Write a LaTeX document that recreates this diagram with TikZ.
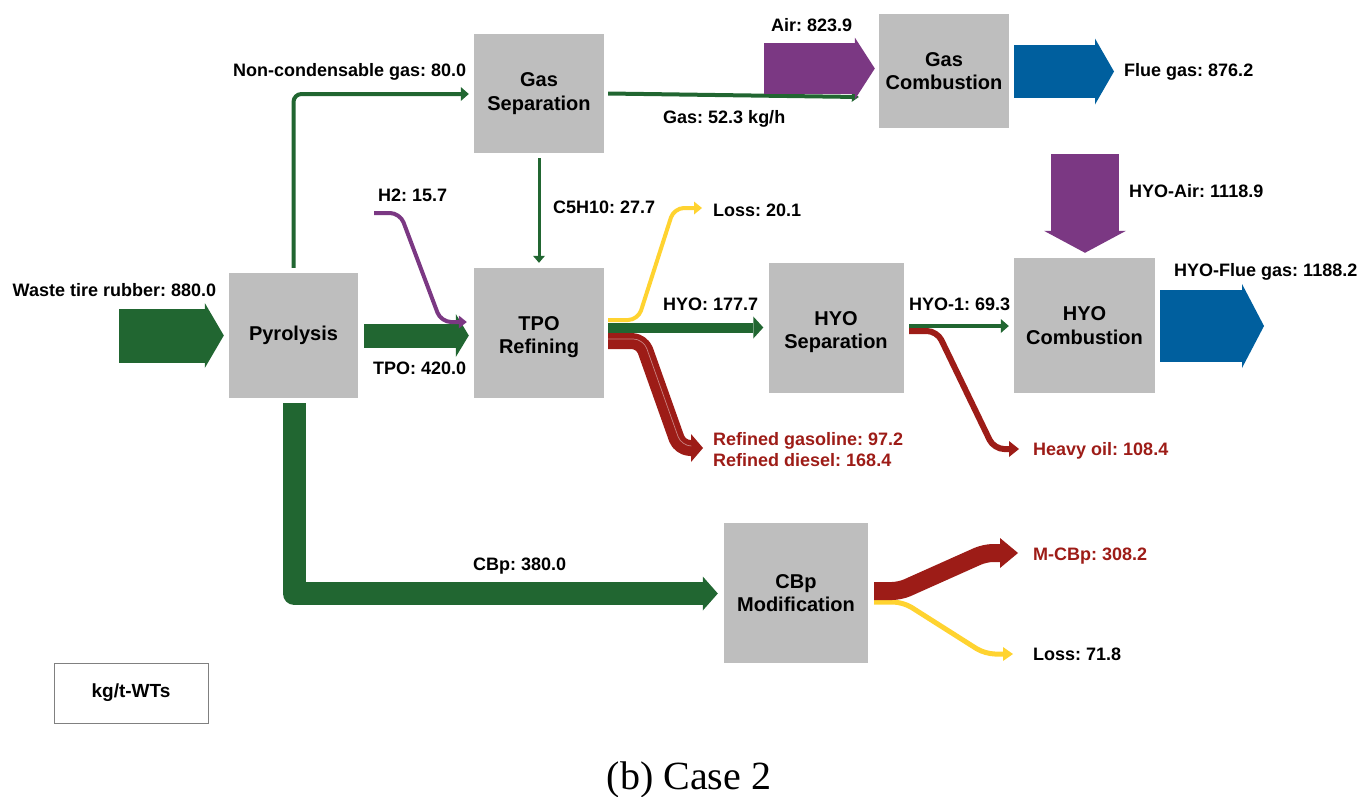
\documentclass[tikz,border=0pt]{standalone}
\usepackage{fontspec}
\setmainfont{Liberation Sans}
\newfontfamily\capfont{Liberation Serif}
\usetikzlibrary{arrows.meta,calc}
\definecolor{fgreen}{HTML}{216631}
\definecolor{fpurple}{HTML}{7B3883}
\definecolor{fblue}{HTML}{005F9E}
\definecolor{fred}{HTML}{9D1C17}
\definecolor{fyellow}{HTML}{FFD330}
\definecolor{boxgray}{HTML}{BEBEBE}
\newcommand\bxfont{\fontsize{20}{23.5}\selectfont\bfseries}
\newcommand\lbfont{\fontsize{18}{21}\selectfont\bfseries}
\newcommand\unitfont{\fontsize{19}{22}\selectfont\bfseries}
\frenchspacing
\begin{document}
\begin{tikzpicture}[x=1pt,y=-1pt,
  box/.style={fill=boxgray, inner sep=0pt, align=center, font=\bxfont},
  lbl/.style={anchor=base west, inner sep=0pt, font=\lbfont},
  rlbl/.style={lbl, text=fred},
  tipd/.style 2 args={-{Triangle[length=#1pt,width=#2pt,line width=0pt]}},
  flow/.style={line cap=butt, line join=round}
]
\useasboundingbox (0,0) rectangle (1359,796);

% process boxes
\node[box, minimum width=129pt, minimum height=125pt] (pyr) at (293.5,335.5) {Pyrolysis};
\node[box, minimum width=130pt, minimum height=119pt] (gsep) at (539,93.5) {Gas\\Separation};
\node[box, minimum width=130pt, minimum height=130pt] (tpo) at (539,333) {\rule{0pt}{22pt}TPO\\Refining};
\node[box, minimum width=130pt, minimum height=114pt] (gcomb) at (944,71) {Gas\\Combustion};
\node[box, minimum width=135pt, minimum height=130pt] (hsep) at (836,328) {\rule{0pt}{22pt}HYO\\Separation};
\node[box, minimum width=141pt, minimum height=135pt] (hcomb) at (1084.5,325.5) {HYO\\Combustion};
\node[box, minimum width=144pt, minimum height=140pt] (cbpm) at (796,593) {CBp\\Modification};
\node[draw=gray, fill=white, line width=1pt, minimum width=154pt, minimum height=60pt, inner sep=0pt, font=\unitfont] (unit) at (131,693) {kg/t-WTs};
\node[font=\capfont\fontsize{40}{44}\selectfont, anchor=base, inner sep=0pt] (cap) at (689,789) {(b) Case 2};

% free ends
\coordinate (win) at (119,335.5);
\coordinate (h2in) at (374,213);
\coordinate (airin) at (764,68.5);
\coordinate (flue) at (1114,71.5);
\coordinate (hairin) at (1085,154);
\coordinate (loss1) at (702,208);
\coordinate (refout) at (703,448);
\coordinate (heavy) at (1019,449);
\coordinate (hflue) at (1264,326);
\coordinate (mcbp) at (1018,553);
\coordinate (loss2) at (1013,654);

% flows
\draw[flow, fgreen, line width=54pt, tipd={19}{65}] (win) -- ($(pyr.west)+(-5,0)$);
\draw[flow, fgreen, line width=24pt, tipd={13}{43}] ($(pyr.east)+(6,0)$) -- ($(tpo.west)+(-5,2.5)$);
\draw[flow, fgreen, line width=4pt, rounded corners=8pt, tipd={8}{14}] ($(pyr.north)+(0,-5)$) |- ($(gsep.west)+(-5,0.5)$);
\draw[flow, fpurple, line width=4pt, rounded corners=10pt, tipd={8}{13}] (h2in) -- (400,213) -- (441,322) -- ($(tpo.west)+(-7,-11)$);
\draw[flow, fgreen, line width=3pt, tipd={7}{12}] ($(gsep.south)+(0,5)$) -- ($(tpo.north)+(0,-5)$);
\draw[flow, fgreen, line width=4pt, tipd={7}{10}] ($(gsep.east)+(4,0)$) -- ($(gcomb.west)+(-20,26)$);
\draw[flow, fpurple, line width=51pt, tipd={20}{62}] (airin) -- ($(gcomb.west)+(-4,-2.5)$);
\draw[flow, fblue, line width=53pt, tipd={19}{66}] ($(gcomb.east)+(5,0.5)$) -- (flue);
\draw[flow, fpurple, line width=68pt, tipd={22}{82}] (hairin) -- ($(hcomb.north)+(0.5,-5)$);
\draw[flow, fyellow, line width=4pt, rounded corners=10pt, tipd={8}{13}] ($(tpo.east)+(4,-13)$) -- (638,320) -- (674,208) -- (loss1);
\draw[flow, fgreen, line width=10pt, tipd={10}{22}] ($(tpo.east)+(4,-5.5)$) -- ($(hsep.west)+(-5,-0.5)$);
\draw[flow, fred, line width=16pt, rounded corners=10pt, tipd={12}{28}] ($(tpo.east)+(4,8)$) -- (642,341) -- (680,448) -- (refout);
\draw[fred!55!white, line width=0.7pt, rounded corners=10pt] ($(tpo.east)+(4,6)$) -- (643.4,339) -- (681.4,446) -- (691,446);
\draw[flow, fgreen, line width=4pt, tipd={8}{14}] ($(hsep.east)+(5.5,-2)$) -- ($(hcomb.west)+(-5,0.5)$);
\draw[flow, fred, line width=6pt, rounded corners=10pt, tipd={10}{16}] ($(hsep.east)+(5.5,3)$) -- (937,331) -- (994,449) -- (heavy);
\draw[flow, fblue, line width=72pt, tipd={22}{84}] ($(hcomb.east)+(5,0.5)$) -- (hflue);
\draw[flow, fgreen, line width=23pt, tipd={15}{34}] ($(pyr.south)+(0.5,5)$) |- ($(cbpm.west)+(-6,0.5)$);
\draw[flow, fyellow, line width=5pt, rounded corners=10pt, tipd={10}{14}] ($(cbpm.east)+(6,9)$) -- (903,602) -- (985,654) -- (loss2);
\draw[flow, fred, line width=18pt, rounded corners=8pt, tipd={18}{30}] ($(cbpm.east)+(6,-2)$) -- (900,591) -- (985,553) -- (mcbp);

% labels
\node[lbl] (l1) at (12.5,296) {Waste tire rubber: 880.0};
\node[lbl] (l2) at (373,374) {TPO: 420.0};
\node[lbl] (l3) at (233,76) {Non-condensable gas: 80.0};
\node[lbl] (l4) at (378,201) {H2: 15.7};
\node[lbl] (l5) at (553,213) {C5H10: 27.7};
\node[lbl] (l6) at (663,123) {Gas: 52.3 kg/h};
\node[lbl] (l7) at (771,31) {Air: 823.9};
\node[lbl] (l8) at (1124,76) {Flue gas: 876.2};
\node[lbl] (l9) at (1129,197) {HYO-Air: 1118.9};
\node[lbl] (l10) at (713,216) {Loss: 20.1};
\node[lbl] (l11) at (663,310) {HYO: 177.7};
\node[lbl] (l12) at (909,310) {HYO-1: 69.3};
\node[lbl] (l13) at (1174,276) {HYO-Flue gas: 1188.2};
\node[rlbl] (l14) at (713,445) {Refined gasoline: 97.2};
\node[rlbl] (l15) at (713,466) {Refined diesel: 168.4};
\node[rlbl] (l16) at (1033,455) {Heavy oil: 108.4};
\node[rlbl] (l17) at (1033,560) {M-CBp: 308.2};
\node[lbl] (l18) at (1033,660) {Loss: 71.8};
\node[lbl] (l19) at (473,570) {CBp: 380.0};
\end{tikzpicture}
\end{document}
